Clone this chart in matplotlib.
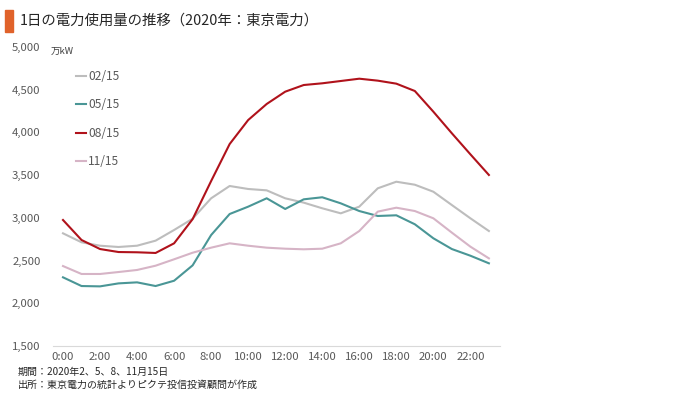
import matplotlib
matplotlib.use("Agg")
import matplotlib.pyplot as plt
from matplotlib.patches import Rectangle

plt.rcParams['font.family'] = ['Noto Sans CJK JP', 'DejaVu Sans']

hours = list(range(24))
xtick_labels = [f"{h}:00" for h in range(0, 24, 2)]
series_names = ["02/15", "05/15", "08/15", "11/15"]
feb = [2819, 2714, 2674, 2659, 2674, 2733, 2858, 2990, 3229, 3373, 3338, 3322,
       3229, 3178, 3112, 3053, 3131, 3346, 3423, 3388, 3306, 3150, 2995, 2846]
may = [2304, 2202, 2198, 2233, 2245, 2202, 2264, 2444, 2799, 3045, 3131, 3229,
       3104, 3217, 3241, 3170, 3080, 3022, 3030, 2925, 2761, 2635, 2557, 2468]
aug = [2975, 2741, 2635, 2600, 2597, 2589, 2702, 2985, 3431, 3864, 4145, 4333,
       4477, 4555, 4575, 4602, 4629, 4606, 4571, 4485, 4243, 3990, 3744, 3502]
nov = [2436, 2343, 2343, 2366, 2390, 2440, 2515, 2592, 2651, 2702, 2674, 2651,
       2639, 2632, 2639, 2702, 2846, 3073, 3119, 3080, 2995, 2827, 2663, 2526]
colors = ["#bdbdbd", "#4a9696", "#b0121b", "#d6b4c6"]

fig = plt.figure(figsize=(6.8, 3.94), dpi=100)
ax = fig.add_axes([53/680, 1-346/394, (500-53)/680, (346-47)/394])

for vals, name, c in zip([feb, may, aug, nov], series_names, colors):
    ax.plot(hours, vals, color=c, lw=1.5, label=name, solid_joinstyle='round')

ax.set_xlim(-0.54, 23.6)
ax.set_ylim(1500, 5000)
ax.set_yticks(range(1500, 5001, 500))
ax.set_yticklabels([f"{v:,}" for v in range(1500, 5001, 500)])
ax.set_xticks(range(0, 24, 2))
ax.set_xticklabels(xtick_labels)
for s in ["top", "right", "left"]:
    ax.spines[s].set_visible(False)
ax.spines["bottom"].set_color("#d9d9d9")
ax.spines["bottom"].set_linewidth(0.8)
ax.tick_params(axis='both', length=0, labelsize=8.2, colors="#595959")
ax.tick_params(axis='y', pad=9)
ax.tick_params(axis='x', pad=4)

fig.text(51/680, 1-51/394, "万kW", fontsize=6.8,
         color="#404040", va="center", ha="left")

leg = ax.legend(loc="upper left", bbox_to_anchor=(0.04, 0.94), frameon=False,
                fontsize=8.6, handlelength=0.9, handletextpad=0.15,
                labelspacing=1.3, borderaxespad=0)
for t in leg.get_texts():
    t.set_color("#595959")

fig.patches.append(Rectangle((5/680, 1-32/394), 8/680, 22/394,
                             transform=fig.transFigure, color="#e0622a"))
fig.text(20/680, 1-21/394, "1日の電力使用量の推移（2020年：東京電力）",
         fontsize=10.4, va="center", ha="left", color="#262626")
fig.text(18/680, 1-372/394, "期間：2020年2、5、8、11月15日",
         fontsize=7.2, va="center", ha="left", color="#262626")
fig.text(18/680, 1-385/394, "出所：東京電力の統計よりピクテ投信投資顧問が作成",
         fontsize=7.2, va="center", ha="left", color="#262626")

fig.savefig("out.png", dpi=100)
